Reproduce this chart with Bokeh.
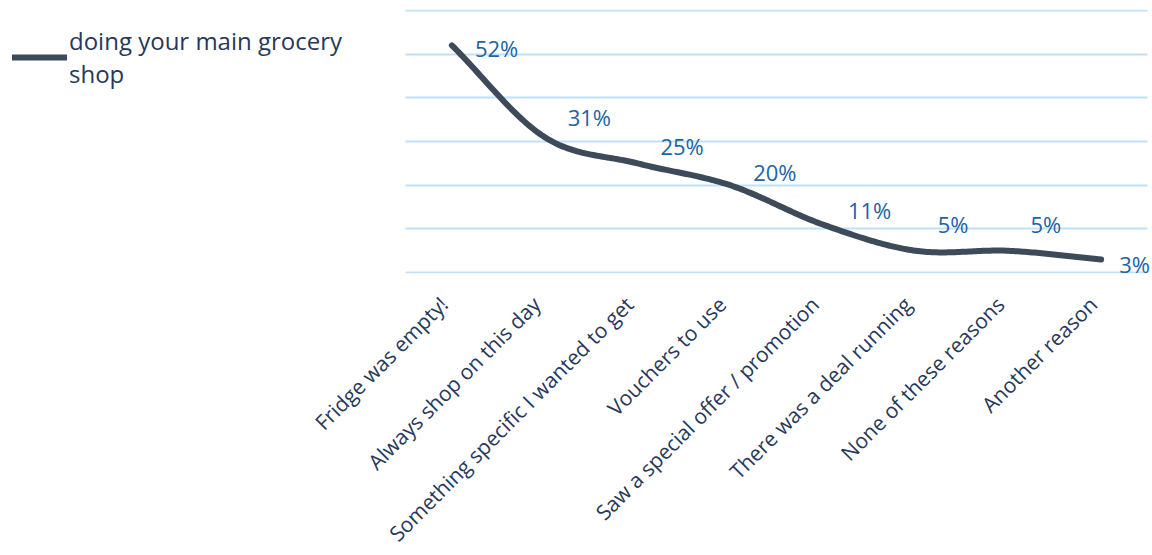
import numpy as np
from bokeh.plotting import figure
from bokeh.models import ColumnDataSource, Range1d, FixedTicker, Legend, LegendItem, LabelSet
from bokeh.core.properties import value
from bokeh.embed import file_html
from bokeh.resources import INLINE

# ---------------- data ----------------
categories = [
    "Fridge was empty!",
    "Always shop on this day",
    "Something specific I wanted to get",
    "Vouchers to use",
    "Saw a special offer / promotion",
    "There was a deal running",
    "None of these reasons",
    "Another reason",
]
values = [52, 31, 25, 20, 11, 5, 5, 3]
value_labels = ["52%", "31%", "25%", "20%", "11%", "5%", "5%", "3%"]
series_name = "doing your main grocery\nshop"
y_ticks = [0, 10, 20, 30, 40, 50, 60]

# ---------------- style ----------------
label_dx = [23, 23, 23, 23, 25, 22, 22, 18]
label_dy = [-3, 20, 17, 13, 15, 27, 27, -4]
FONT = "Open Sans"
LINE_COLOR = "#3d4a59"
LABEL_COLOR = "#2064a6"
TEXT_COLOR = "#28385a"
GRID_COLOR = "#c2e1f7"

PLOT_LEFT = 405      # px where the category band starts
PLOT_RIGHT = 1147    # px where the category band ends
FRAME_W = 1152
CAT_W = (PLOT_RIGHT - PLOT_LEFT) / len(categories)
TICK_LABEL_SHIFT_PX = 8   # tick labels sit slightly left of the category centre

xs = list(range(len(categories)))


def smooth(px, py, n=40):
    """Catmull-Rom (Excel-like) smoothing of the polyline for drawing."""
    px = np.asarray(px, float)
    py = np.asarray(py, float)
    ox, oy = [], []
    m = len(px)
    for i in range(m - 1):
        p0 = max(i - 1, 0)
        p3 = min(i + 2, m - 1)
        m1x = (px[i + 1] - px[p0]) / (2 if i > 0 else 1)
        m1y = (py[i + 1] - py[p0]) / (2 if i > 0 else 1)
        m2x = (px[p3] - px[i]) / (2 if i + 1 < m - 1 else 1)
        m2y = (py[p3] - py[i]) / (2 if i + 1 < m - 1 else 1)
        t = np.linspace(0, 1, n, endpoint=(i == m - 2))
        h00 = 2 * t**3 - 3 * t**2 + 1
        h10 = t**3 - 2 * t**2 + t
        h01 = -2 * t**3 + 3 * t**2
        h11 = t**3 - t**2
        ox.extend(h00 * px[i] + h10 * m1x + h01 * px[i + 1] + h11 * m2x)
        oy.extend(h00 * py[i] + h10 * m1y + h01 * py[i + 1] + h11 * m2y)
    return ox, oy


sx, sy = smooth(xs, values)

x_start = -0.5 - PLOT_LEFT / CAT_W
x_end = len(categories) - 0.5 + (FRAME_W - PLOT_RIGHT) / CAT_W
p = figure(
    frame_width=FRAME_W,
    frame_height=264,
    output_backend="svg",
    toolbar_location=None,
    x_range=Range1d(x_start, x_end),
    y_range=Range1d(-0.2, 60.2),
    min_border_left=0,
    min_border_right=0,
    min_border_top=9,
    min_border_bottom=0,
)
p.outline_line_color = None
p.background_fill_color = "white"
p.border_fill_color = "white"

shift = TICK_LABEL_SHIFT_PX / CAT_W
p.extra_x_ranges = {"labels": Range1d(x_start + shift, x_end + shift)}

line = p.line(sx, sy, line_width=6, line_color=LINE_COLOR, line_cap="round", line_join="round")

src = ColumnDataSource(dict(x=xs, y=values, text=value_labels, dx=label_dx, dy=label_dy))
labels = LabelSet(
    x="x", y="y", text="text", source=src,
    x_offset="dx", y_offset="dy",
    text_font=value(FONT), text_font_size="22px", text_color=LABEL_COLOR,
    text_align="left", text_baseline="middle",
)
p.add_layout(labels)

# axes
p.xaxis.x_range_name = "labels"
p.xaxis.ticker = FixedTicker(ticks=xs)
p.xaxis.major_label_overrides = {i: c for i, c in enumerate(categories)}
p.xaxis.major_label_orientation = np.pi / 4
p.xaxis.axis_line_color = None
p.xaxis.major_tick_line_color = None
p.xaxis.minor_tick_line_color = None
p.xaxis.major_label_standoff = 21
p.xaxis.major_label_text_font = FONT
p.xaxis.major_label_text_font_size = "21px"
p.xaxis.major_label_text_color = TEXT_COLOR
p.yaxis.visible = False
p.yaxis.ticker = FixedTicker(ticks=y_ticks)

p.xgrid.grid_line_color = None
p.ygrid.ticker = FixedTicker(ticks=y_ticks)
p.ygrid.grid_line_color = GRID_COLOR
p.ygrid.grid_line_width = 2
p.ygrid.cross_bounds = (-0.5, len(categories) - 0.5)

legend = Legend(
    items=[LegendItem(label=series_name, renderers=[line])],
    location=(12, 183),
    glyph_width=55,
    glyph_height=20,
    label_standoff=2,
    padding=0,
    margin=0,
    spacing=0,
    border_line_color=None,
    background_fill_alpha=0,
    label_text_font=FONT,
    label_text_font_size="24px",
    label_text_color=TEXT_COLOR,
    label_text_line_height=1.25,
)
p.add_layout(legend)

open("out.html", "w").write(file_html(p, INLINE))
